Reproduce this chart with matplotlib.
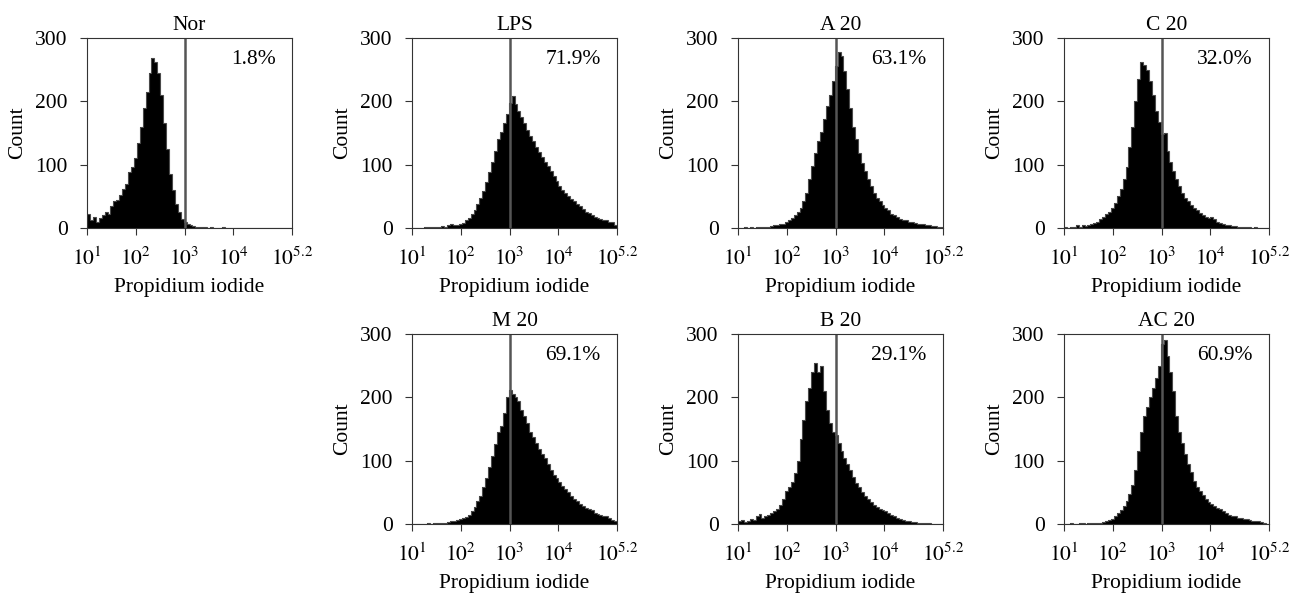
import numpy as np
import matplotlib
matplotlib.use("Agg")
import matplotlib.pyplot as plt

plt.rcParams["font.family"] = ["Liberation Serif", "DejaVu Serif"]
plt.rcParams["mathtext.fontset"] = "stix"

OUTPUT_FIG = "out.png"

# histogram channels: 70 bins, 0.06 decade each, from 10^1 to 10^5.2
LOG_START = 1.0
BIN_WIDTH = 0.06

titles = ["Nor", "LPS", "A 20", "C 20", "M 20", "B 20", "AC 20"]
percents = ["1.8%", "71.9%", "63.1%", "32.0%", "69.1%", "29.1%", "60.9%"]

nor = [22, 12, 18, 10, 16, 20, 26, 22, 34, 42, 45, 52, 62, 70, 88, 96, 110, 135, 160, 190,
       215, 245, 268, 262, 245, 210, 165, 125, 85, 60, 38, 25, 15, 9, 6, 4, 3, 2, 1, 1,
       1, 0, 1, 0, 0, 0, 1, 0, 0, 0, 0, 0, 0, 0, 0, 0, 0, 0, 0, 0,
       0, 0, 0, 0, 0, 0, 0, 0, 0, 0]
lps = [0, 0, 0, 0, 1, 1, 1, 2, 1, 2, 3, 2, 4, 6, 4, 5, 6, 8, 12, 16,
       22, 28, 38, 48, 58, 72, 88, 105, 122, 140, 152, 165, 180, 198, 208, 195, 185, 175, 165, 155,
       146, 138, 128, 120, 112, 105, 98, 90, 82, 74, 66, 60, 56, 50, 46, 42, 38, 34, 30, 26,
       24, 20, 18, 16, 14, 12, 12, 10, 9, 4]
a20 = [0, 0, 1, 0, 1, 0, 1, 1, 2, 1, 2, 3, 4, 5, 6, 7, 9, 12, 16, 20,
       26, 32, 42, 56, 78, 98, 118, 138, 152, 172, 192, 210, 232, 255, 278, 272, 248, 220, 190, 160,
       140, 118, 102, 90, 78, 66, 56, 48, 42, 36, 32, 28, 22, 20, 18, 15, 13, 12, 10, 9,
       8, 7, 6, 7, 5, 4, 3, 3, 2, 1]
c20 = [1, 0, 2, 1, 4, 2, 4, 3, 5, 6, 8, 10, 14, 18, 22, 26, 32, 40, 50, 62,
       78, 96, 128, 160, 200, 235, 262, 258, 250, 232, 210, 185, 168, 148, 150, 122, 105, 90, 78, 66,
       56, 48, 42, 36, 32, 28, 24, 20, 18, 16, 18, 14, 10, 8, 6, 5, 4, 3, 3, 2,
       2, 1, 1, 1, 0, 1, 0, 0, 0, 0]
m20 = [0, 0, 0, 0, 0, 1, 0, 1, 1, 1, 1, 2, 3, 4, 5, 6, 8, 9, 11, 15,
       21, 27, 36, 45, 58, 72, 90, 108, 126, 145, 155, 175, 200, 212, 206, 200, 195, 180, 170, 160,
       145, 138, 128, 118, 110, 104, 95, 85, 78, 72, 66, 60, 56, 50, 45, 40, 36, 32, 28, 26,
       24, 22, 18, 16, 14, 12, 12, 9, 6, 4]
b20 = [4, 6, 3, 5, 8, 6, 12, 16, 10, 12, 15, 18, 20, 24, 30, 40, 52, 58, 66, 80,
       100, 135, 165, 195, 215, 240, 255, 240, 250, 210, 180, 160, 145, 140, 128, 115, 105, 95, 85, 75,
       65, 58, 50, 45, 40, 35, 30, 27, 24, 22, 20, 17, 14, 12, 10, 8, 6, 5, 4, 3,
       3, 2, 2, 1, 1, 1, 0, 0, 0, 0]
ac20 = [0, 0, 1, 0, 0, 1, 1, 0, 1, 1, 1, 2, 2, 3, 4, 6, 8, 12, 17, 22,
        28, 36, 48, 62, 85, 115, 145, 170, 185, 200, 215, 230, 250, 285, 290, 265, 240, 210, 170, 145,
        128, 110, 95, 82, 68, 58, 52, 46, 40, 35, 32, 29, 26, 23, 21, 18, 15, 13, 12, 10,
        9, 8, 8, 6, 5, 5, 4, 3, 1, 0]

all_counts = [nor, lps, a20, c20, m20, b20, ac20]

# axes boxes in pixels: (left, top)
W, H = 1291, 594
AX_W, AX_H = 205, 190
positions = [(87, 38), (412, 38), (738, 38), (1064, 38),
             (412, 334), (738, 334), (1064, 334)]

FS = 15.5


def draw_panel(fig, pos, counts, title, pct):
    left, top = pos
    ax = fig.add_axes([left / W, (H - top - AX_H) / H, AX_W / W, AX_H / H])
    edges = 10 ** (LOG_START + BIN_WIDTH * np.arange(len(counts) + 1))
    ax.stairs(counts, edges, fill=True, color="black")
    ax.stairs(counts, edges, color="#4a4a4a", linewidth=0.8)
    ax.axvline(1000, color="#555555", linewidth=1.8)

    ax.set_xscale("log")
    ax.set_xlim(10, 10 ** 5.2)
    ax.set_ylim(0, 300)
    ax.set_xticks([10, 100, 1000, 10000, 10 ** 5.2])
    ax.set_xticklabels([r"$10^{1}$", r"$10^{2}$", r"$10^{3}$", r"$10^{4}$", r"$10^{5.2}$"])
    ax.set_yticks([0, 100, 200, 300])
    ax.tick_params(axis="both", which="major", labelsize=FS, length=5, width=0.8, color="#333333")
    ax.tick_params(axis="x", which="major", pad=9)
    ax.tick_params(axis="y", which="major", pad=9)
    ax.tick_params(axis="x", which="minor", length=4, width=0.8, color="#333333")
    for sp in ax.spines.values():
        sp.set_color("#333333")
        sp.set_linewidth(0.8)

    ax.set_title(title, fontsize=FS, pad=6)
    ax.set_xlabel("Propidium iodide", fontsize=FS, labelpad=6)
    ax.set_ylabel("Count", fontsize=FS, labelpad=6)
    ax.text(0.92, 0.885, pct, transform=ax.transAxes, ha="right", va="center", fontsize=FS)


def plot_all():
    fig = plt.figure(figsize=(W / 100, H / 100), dpi=100)
    for pos, counts, title, pct in zip(positions, all_counts, titles, percents):
        draw_panel(fig, pos, counts, title, pct)
    fig.savefig(OUTPUT_FIG, dpi=100)


plot_all()
